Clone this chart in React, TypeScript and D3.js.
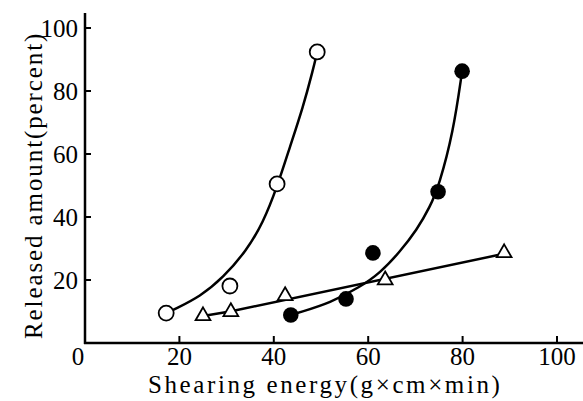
import React from 'react';
import * as d3 from 'd3';

// measured points
const openX = [17.2, 30.7, 40.7, 49.2];
const openY = [9.5, 18.1, 50.5, 92.4];
const filledX = [43.6, 55.3, 61.0, 74.8, 79.9];
const filledY = [8.9, 14.0, 28.6, 48.0, 86.3];
const triX = [25.0, 30.9, 42.4, 63.6, 88.8];
const triY = [8.6, 9.9, 15.0, 20.0, 28.6];

// hand drawn fitted curves
const openFitX = [17.2, 19.1, 24.4, 29.2, 34.3, 37.7, 40.7, 43.4, 46.2, 48.3, 49.2];
const openFitY = [9.5, 10.8, 14.8, 20.6, 29.5, 38.1, 49.5, 62.2, 74.9, 86.7, 92.4];
const filledFitX = [43.6, 45.6, 51.9, 58.3, 62.5, 66.7, 70.3, 73.1, 75.0, 78.0, 79.9];
const filledFitY = [8.9, 9.8, 12.7, 17.8, 22.2, 28.9, 35.9, 43.2, 50.0, 66.7, 86.3];
const triFitX = [25.0, 31.0, 89.0];
const triFitY = [8.6, 10.1, 28.4];

const xTicks = [0, 20, 40, 60, 80, 100];
const yTicks = [20, 40, 60, 80, 100];

const font = "'Liberation Serif', 'Times New Roman', serif";

const zip = (xs: number[], ys: number[]) => xs.map((x, i) => [x, ys[i]] as [number, number]);

const App = () => {
  const x = d3.scaleLinear().domain([0, 100]).range([85, 557]);
  const y = d3.scaleLinear().domain([0, 100]).range([343, 28]);

  const line = d3.line<[number, number]>()
    .x(d => x(d[0]))
    .y(d => y(d[1]))
    .curve(d3.curveBasis);
  const straight = d3.line<[number, number]>()
    .x(d => x(d[0]))
    .y(d => y(d[1]));

  const tri = d3.symbol().type(d3.symbolTriangle).size(95)() as string;

  return (
    <svg width={583} height={401}
      style={{ position: 'absolute', left: 0, top: 0, background: '#fff', fontFamily: font }}>
      {/* axes */}
      <line x1={85} x2={85} y1={13} y2={344} stroke="#000" strokeWidth={2.5} />
      <line x1={84} x2={583} y1={343} y2={343} stroke="#000" strokeWidth={2.5} />
      {xTicks.filter(t => t > 0).map(t => (
        <line key={'xt' + t} x1={x(t)} x2={x(t)} y1={343} y2={336} stroke="#000" strokeWidth={2} />
      ))}
      {yTicks.map(t => (
        <line key={'yt' + t} x1={85} x2={91} y1={y(t)} y2={y(t)} stroke="#000" strokeWidth={2} />
      ))}
      {xTicks.map(t => (
        <text key={'xl' + t} x={x(t) + (t === 0 ? -7 : 0)} y={365} textAnchor="middle"
          style={{ fontFamily: font, fontSize: 25 }}>{t}</text>
      ))}
      {yTicks.map(t => (
        <text key={'yl' + t} x={78} y={y(t)} dy="0.35em" textAnchor="end"
          style={{ fontFamily: font, fontSize: 25 }}>{t}</text>
      ))}
      <text x={148} y={393} style={{ fontFamily: font, fontSize: 25, letterSpacing: 2.6 }}>
        Shearing energy(g×cm×min)
      </text>
      <text transform="translate(42,339) rotate(-90)"
        style={{ fontFamily: font, fontSize: 25, letterSpacing: 1.9 }}>
        Released amount(percent)
      </text>

      {/* fitted lines */}
      <path d={line(zip(openFitX, openFitY)) || ''} fill="none" stroke="#000" strokeWidth={2.5} />
      <path d={line(zip(filledFitX, filledFitY)) || ''} fill="none" stroke="#000" strokeWidth={2.5} />
      <path d={straight(zip(triFitX, triFitY)) || ''} fill="none" stroke="#000" strokeWidth={2.5} />

      {/* markers */}
      {zip(openX, openY).map((d, i) => (
        <circle key={'o' + i} cx={x(d[0])} cy={y(d[1])} r={7.5} fill="#fff" stroke="#000" strokeWidth={1.8} />
      ))}
      {zip(filledX, filledY).map((d, i) => (
        <circle key={'f' + i} cx={x(d[0])} cy={y(d[1])} r={7.8} fill="#000" />
      ))}
      {zip(triX, triY).map((d, i) => (
        <path key={'t' + i} d={tri} transform={`translate(${x(d[0])},${y(d[1])})`}
          fill="#fff" stroke="#000" strokeWidth={1.8} />
      ))}
    </svg>
  );
};

export default App;
